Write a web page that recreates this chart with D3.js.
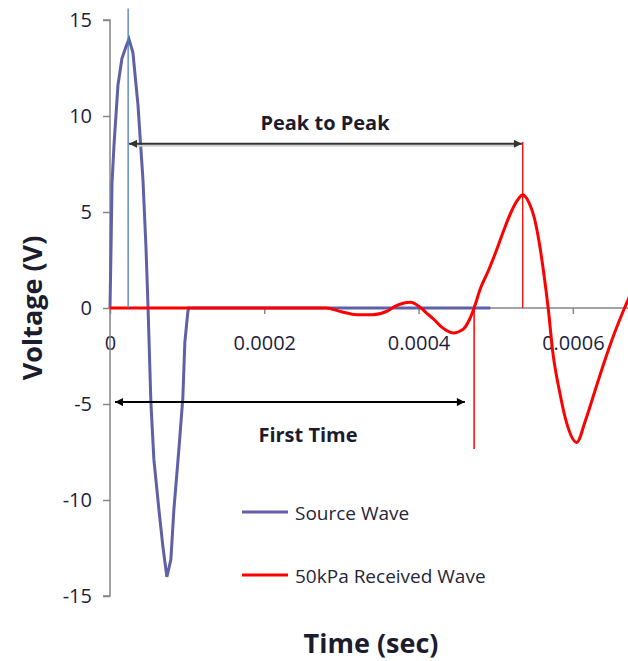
<!DOCTYPE html>
<html>
<head>
<meta charset="utf-8">
<script src="https://cdn.jsdelivr.net/npm/d3@7"></script>
<style>
  body { margin: 0; background: #fff; }
  text { font-family: "Open Sans", sans-serif; }
</style>
</head>
<body>
<div class="chart"></div>
<script>
const width = 628;
const height = 661;

// x tick values and labels
const xTicks = [0, 0.0002, 0.0004, 0.0006];
const xTickLabels = ["0", "0.0002", "0.0004", "0.0006"];
const yTicks = [-15, -10, -5, 0, 5, 10, 15];
const yTickLabels = ["-15", "-10", "-5", "0", "5", "10", "15"];

// Source Wave (time in sec, voltage in V)
const sourceTime = [0, 0.0000013, 0.0000026, 0.0000052, 0.0000103, 0.0000155, 0.0000207, 0.0000246,
  0.0000297, 0.0000362, 0.0000427, 0.0000466, 0.0000491, 0.000053, 0.0000569, 0.0000634,
  0.0000685, 0.0000737, 0.0000789, 0.0000828, 0.0000892, 0.0000944, 0.000097, 0.0001009,
  0.000102, 0.000493];
const sourceVolt = [0, 3, 6.5, 8.5, 11.6, 13.0, 13.6, 14.0,
  13.3, 10.6, 6.7, 3.2, 0.3, -4.9, -7.9, -10.5,
  -12.4, -14.0, -13.1, -10.5, -7.4, -4.7, -1.8, -0.2,
  0, 0];

// 50kPa Received Wave
const recvTime = [0, 0.00028, 0.0003, 0.00032, 0.00034, 0.00036, 0.00037, 0.00038, 0.00039,
  0.0004, 0.00041, 0.00042, 0.00043, 0.000445, 0.000458, 0.000466, 0.000472, 0.00048,
  0.00049, 0.0005, 0.00051, 0.00052, 0.000528, 0.000535, 0.000543, 0.00055, 0.000556,
  0.000562, 0.000568, 0.000574, 0.000583, 0.000592, 0.000605, 0.000616, 0.000628, 0.00064,
  0.000654, 0.000667, 0.00068, 0.00069];
const recvVolt = [0, 0, -0.2, -0.35, -0.35, -0.15, 0.1, 0.25, 0.3,
  0.1, -0.25, -0.6, -1.0, -1.3, -1.1, -0.6, 0, 1.0,
  1.9, 2.9, 4.0, 5.0, 5.6, 5.9, 5.5, 4.7, 3.5,
  1.9, 0, -2.3, -4.4, -6.0, -7.0, -5.9, -4.4, -2.9,
  -1.3, 0, 1.2, 2.2];

// annotation markers
const peakArrowTime = [0.0000246, 0.000534];
const peakArrowVolt = 8.55;
const firstArrowTime = [0.0000065, 0.00046];
const firstArrowVolt = -4.9;
const sourcePeakTime = 0.0000235;
const recvPeakTime = 0.000535;
const firstArrivalTime = 0.000472;

const svg = d3.select(".chart")
  .append("svg")
  .attr("width", width)
  .attr("height", height);

const defs = svg.append("defs");
function arrowMarker(id, color) {
  defs.append("marker")
    .attr("id", id)
    .attr("viewBox", "0 0 10 10")
    .attr("refX", 10)
    .attr("refY", 5)
    .attr("markerWidth", 9)
    .attr("markerHeight", 8)
    .attr("markerUnits", "userSpaceOnUse")
    .attr("orient", "auto-start-reverse")
    .append("path")
    .attr("d", "M0,0 L10,5 L0,10 z")
    .attr("fill", color);
}
arrowMarker("arrowBlack", "#000");
arrowMarker("arrowGray", "#333");

const xScale = d3.scaleLinear()
  .domain([0, 0.0007])
  .range([110, 650]);

const yScale = d3.scaleLinear()
  .domain([-15, 15])
  .range([596, 20]);

// axes
const xAxis = d3.axisBottom(xScale)
  .tickValues(xTicks)
  .tickFormat((d, i) => xTickLabels[i])
  .tickSize(6)
  .tickPadding(22);

const yAxis = d3.axisLeft(yScale)
  .tickValues(yTicks)
  .tickFormat((d, i) => yTickLabels[i])
  .tickSize(7)
  .tickPadding(11);

const gx = svg.append("g")
  .attr("id", "x-axis")
  .attr("transform", "translate(0," + yScale(0) + ")")
  .call(xAxis);
gx.select(".domain").attr("d", "M" + xScale(0) + ",0H" + width);

const gy = svg.append("g")
  .attr("id", "y-axis")
  .attr("transform", "translate(" + xScale(0) + ",0)")
  .call(yAxis);
gy.select(".domain").attr("d", "M-7," + yScale(15) + "H0V" + yScale(-15) + "H-7");

svg.selectAll("#x-axis, #y-axis")
  .style("font", "20px 'Open Sans'");
svg.selectAll(".domain, .tick line")
  .attr("stroke", "#868686")
  .attr("stroke-width", 1.5);
svg.selectAll(".tick text").attr("fill", "#1e1e3a");

// series
const sourceLine = d3.line()
  .x((d, i) => xScale(sourceTime[i]))
  .y(d => yScale(d));

const recvLine = d3.line()
  .x((d, i) => xScale(recvTime[i]))
  .y(d => yScale(d))
  .curve(d3.curveMonotoneX);

svg.append("path")
  .datum(sourceVolt)
  .attr("d", sourceLine)
  .attr("fill", "none")
  .attr("stroke", "#5f60a6")
  .attr("stroke-width", 3);

svg.append("path")
  .datum(recvVolt)
  .attr("d", recvLine)
  .attr("fill", "none")
  .attr("stroke", "#ff0000")
  .attr("stroke-width", 3);

// marker lines
svg.append("line")
  .attr("x1", xScale(sourcePeakTime)).attr("x2", xScale(sourcePeakTime))
  .attr("y1", yScale(15.6)).attr("y2", yScale(0))
  .attr("stroke", "#4a7ebb").attr("stroke-width", 1.3);

svg.append("line")
  .attr("x1", xScale(recvPeakTime)).attr("x2", xScale(recvPeakTime))
  .attr("y1", yScale(8.65)).attr("y2", yScale(0))
  .attr("stroke", "#ff0000").attr("stroke-width", 1.3);

svg.append("line")
  .attr("x1", xScale(firstArrivalTime)).attr("x2", xScale(firstArrivalTime))
  .attr("y1", yScale(0.15)).attr("y2", yScale(-7.35))
  .attr("stroke", "#ff0000").attr("stroke-width", 1.5);

// peak to peak arrow (with faint shadow)
svg.append("line")
  .attr("x1", xScale(peakArrowTime[0]) + 6).attr("x2", xScale(peakArrowTime[1]) - 6)
  .attr("y1", yScale(peakArrowVolt) + 2).attr("y2", yScale(peakArrowVolt) + 2)
  .attr("stroke", "#cfcfcf").attr("stroke-width", 2);

svg.append("line")
  .attr("x1", xScale(peakArrowTime[0])).attr("x2", xScale(peakArrowTime[1]))
  .attr("y1", yScale(peakArrowVolt)).attr("y2", yScale(peakArrowVolt))
  .attr("stroke", "#333").attr("stroke-width", 2)
  .attr("marker-start", "url(#arrowGray)")
  .attr("marker-end", "url(#arrowGray)");

svg.append("line")
  .attr("x1", xScale(firstArrowTime[0])).attr("x2", xScale(firstArrowTime[1]))
  .attr("y1", yScale(firstArrowVolt)).attr("y2", yScale(firstArrowVolt))
  .attr("stroke", "#000").attr("stroke-width", 2)
  .attr("marker-start", "url(#arrowBlack)")
  .attr("marker-end", "url(#arrowBlack)");

// annotation text
svg.append("text")
  .attr("x", 325).attr("y", 122)
  .attr("text-anchor", "middle").attr("dominant-baseline", "central")
  .style("font-size", "20px").style("font-weight", "bold")
  .attr("fill", "#1c1c2e")
  .text("Peak to Peak");

svg.append("text")
  .attr("x", 308).attr("y", 434)
  .attr("text-anchor", "middle").attr("dominant-baseline", "central")
  .style("font-size", "20px").style("font-weight", "bold")
  .attr("fill", "#1c1c2e")
  .text("First Time");

// axis titles
svg.append("text")
  .attr("x", 371).attr("y", 642)
  .attr("text-anchor", "middle").attr("dominant-baseline", "central")
  .style("font-size", "27px").style("font-weight", "bold")
  .attr("fill", "#1c1c2e")
  .text("Time (sec)");

svg.append("text")
  .attr("transform", "translate(31,308) rotate(-90)")
  .attr("text-anchor", "middle").attr("dominant-baseline", "central")
  .style("font-size", "27px").style("font-weight", "bold")
  .attr("fill", "#1c1c2e")
  .text("Voltage (V)");

// legend
const legendItems = [
  { label: "Source Wave", color: "#5f60a6", y: 512 },
  { label: "50kPa Received Wave", color: "#ff0000", y: 575 }
];
const legend = svg.append("g").attr("class", "legend");
legendItems.forEach(item => {
  legend.append("line")
    .attr("x1", 242).attr("x2", 288)
    .attr("y1", item.y).attr("y2", item.y)
    .attr("stroke", item.color).attr("stroke-width", 3);
  legend.append("text")
    .attr("x", 295).attr("y", item.y + 1)
    .attr("dominant-baseline", "central")
    .style("font-size", "19px")
    .attr("fill", "#26263a")
    .text(item.label);
});
</script>
</body>
</html>
